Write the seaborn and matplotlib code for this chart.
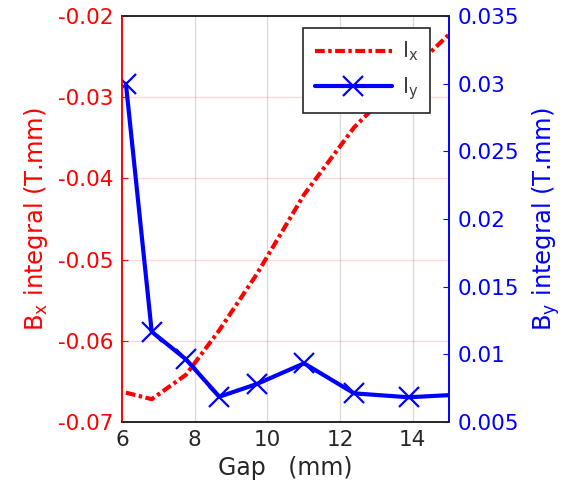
import matplotlib
matplotlib.use("Agg")
import matplotlib.pyplot as plt
import seaborn as sns
import pandas as pd

# Data
gap_y = [6.11, 6.82, 7.76, 8.68, 9.71, 11.01, 12.39, 13.89, 15.5]
by_int = [0.0300, 0.01167, 0.00963, 0.00686, 0.0078, 0.00933, 0.00711, 0.00682, 0.00705]
gap_x = [6.11, 6.82, 7.76, 8.68, 9.71, 11.01, 12.39, 13.89, 15.5]
bx_int = [-0.0664, -0.0672, -0.0642, -0.0587, -0.0518, -0.0420, -0.0337, -0.0270, -0.0201]

left_ticks = [-0.07, -0.06, -0.05, -0.04, -0.03, -0.02]
left_labels = ["-0.07", "-0.06", "-0.05", "-0.04", "-0.03", "-0.02"]
right_ticks = [0.005, 0.01, 0.015, 0.02, 0.025, 0.03, 0.035]
right_labels = ["0.005", "0.01", "0.015", "0.02", "0.025", "0.03", "0.035"]
x_ticks = [6, 8, 10, 12, 14]

sns.set_style("white")
plt.rcParams['font.family'] = ['DejaVu Sans']
plt.rcParams['lines.scale_dashes'] = False

RED = "#ff0000"
BLUE = "#0000ff"
DARK = "#262626"

fig = plt.figure(figsize=(5.67, 4.90), dpi=100)
ax = fig.add_axes([0.215, 0.139, 0.577, 0.828])
ax2 = ax.twinx()

dfx = pd.DataFrame({"gap": gap_x, "bx": bx_int})
dfy = pd.DataFrame({"gap": gap_y, "by": by_int})

sns.lineplot(data=dfx, x="gap", y="bx", ax=ax, color=RED, linewidth=3, sort=False, legend=False)
lx = ax.lines[-1]
lx.set_dashes([7, 2.5, 2.5, 2.5])

sns.lineplot(data=dfy, x="gap", y="by", ax=ax2, color=BLUE, linewidth=3, marker="x",
             markersize=15, markeredgewidth=1.6, markeredgecolor=BLUE, sort=False, legend=False)
ly = ax2.lines[-1]

ax.set_xlim(6, 15)
ax.set_ylim(-0.07, -0.02)
ax2.set_ylim(0.005, 0.035)

ax.set_xticks(x_ticks)
ax.set_xticklabels([str(t) for t in x_ticks])
ax.set_yticks(left_ticks)
ax.set_yticklabels(left_labels)
ax2.set_yticks(right_ticks)
ax2.set_yticklabels(right_labels)

# grids
for t in x_ticks[1:]:
    ax.axvline(t, color="#000000", alpha=0.15, lw=1, zorder=0)
for t in left_ticks[1:-1]:
    ax.axhline(t, color=RED, alpha=0.15, lw=1, zorder=0)

ax.tick_params(axis="x", direction="in", length=4, colors="#404040", labelcolor=DARK, labelsize=15.5, pad=6)
ax.tick_params(axis="y", direction="in", length=4, colors=RED, labelcolor=RED, labelsize=15.5, pad=6)
ax2.tick_params(axis="y", direction="in", length=4, colors=BLUE, labelcolor=BLUE, labelsize=15.5, pad=6)
ax.tick_params(axis="x", top=False)

for a in (ax, ax2):
    a.spines["left"].set_color(RED)
    a.spines["right"].set_color(BLUE)
    a.spines["top"].set_color("#262626")
    a.spines["bottom"].set_color("#262626")
    for s in a.spines.values():
        s.set_linewidth(1.2)
        s.set_visible(True)

ax.set_xlabel("Gap   (mm)", fontsize=17, color=DARK, labelpad=4)
ax.set_ylabel(r"B$_{\mathregular{x}}$ integral (T.mm)", fontsize=17.5, color=RED, labelpad=6)
ax2.set_ylabel(r"B$_{\mathregular{y}}$ integral (T.mm)", fontsize=17.5, color=BLUE, labelpad=8)

leg = ax2.legend([lx, ly], [r"I$_{\mathregular{x}}$", r"I$_{\mathregular{y}}$"],
                 loc="upper right", bbox_to_anchor=(0.942, 0.97), fontsize=15,
                 handlelength=3.7, frameon=True, fancybox=False, framealpha=1,
                 edgecolor="#262626", labelcolor="#404040", borderpad=0.55,
                 labelspacing=0.55, handletextpad=0.5, borderaxespad=0.0)
leg.get_frame().set_linewidth(1.2)

fig.savefig("out.png", dpi=100)
